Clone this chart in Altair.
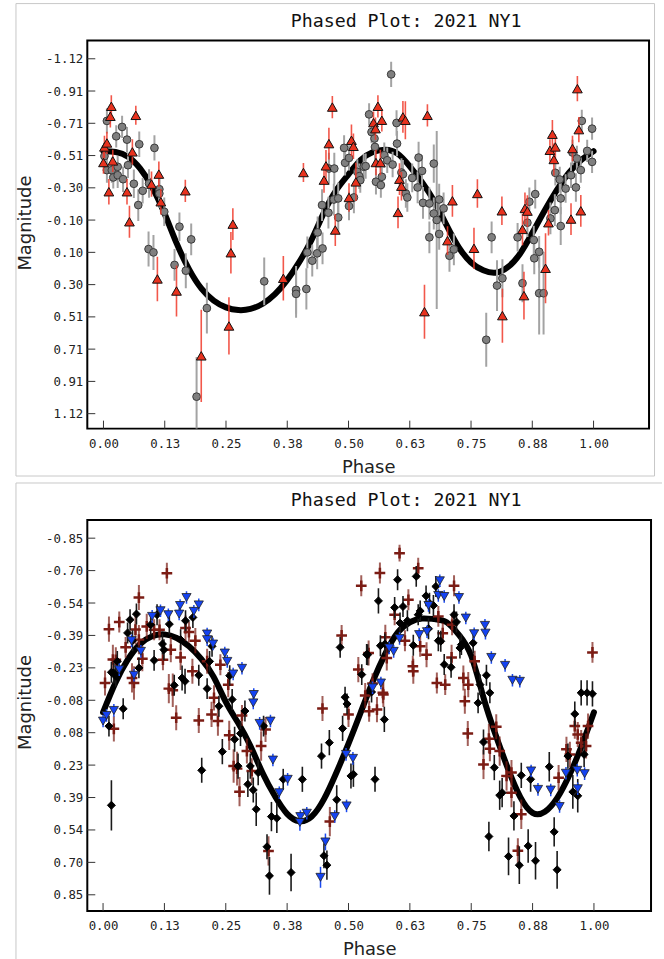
import altair as alt
import pandas as pd

TITLE = "Phased Plot: 2021 NY1"
x_tick_values = [0.0, 0.125, 0.25, 0.375, 0.5, 0.625, 0.75, 0.875, 1.0]
p1_y_tick_values = [-1.1171, -0.9140, -0.7109, -0.5078, -0.3047, -0.1016,
                    0.1016, 0.3047, 0.5078, 0.7109, 0.9140, 1.1171]
p2_y_tick_values = [-0.8514, -0.6966, -0.5418, -0.3870, -0.2322, -0.0774,
                    0.0774, 0.2322, 0.3870, 0.5418, 0.6966, 0.8514]

# ---------------- panel 1 : (phase, magnitude, error) ----------------
p1_gray = [
    (0.007, -0.726, 0.08), (0.026, -0.629, 0.07), (0.038, -0.688, 0.07), (0.048, -0.608, 0.08),
    (0.073, -0.579, 0.08), (0.104, -0.556, 0.08), (0.002, -0.504, 0.07), (0.007, -0.416, 0.08),
    (0.017, -0.416, 0.08), (0.020, -0.370, 0.07), (0.029, -0.437, 0.07), (0.029, -0.384, 0.08),
    (0.040, -0.359, 0.08), (0.050, -0.447, 0.08), (0.062, -0.330, 0.09), (0.071, -0.196, 0.10),
    (0.080, -0.286, 0.08), (0.093, -0.332, 0.09), (0.114, -0.296, 0.09), (0.114, -0.269, 0.09),
    (0.124, -0.154, 0.09), (0.092, 0.081, 0.11), (0.102, 0.102, 0.11), (0.155, -0.060, 0.09),
    (0.179, 0.020, 0.10), (0.145, 0.181, 0.10), (0.168, 0.217, 0.11), (0.211, 0.453, 0.16),
    (0.190, 1.010, 0.25), (0.328, 0.284, 0.15), (0.393, 0.338, 0.15), (0.393, 0.363, 0.15),
    (0.414, 0.332, 0.13), (0.416, 0.102, 0.10), (0.426, 0.154, 0.10), (0.437, -0.024, 0.10),
    (0.436, 0.108, 0.10), (0.447, 0.077, 0.10), (0.446, -0.196, 0.10), (0.459, -0.148, 0.10),
    (0.460, -0.426, 0.10), (0.471, -0.426, 0.10), (0.470, -0.231, 0.10), (0.479, -0.238, 0.10),
    (0.479, -0.118, 0.10), (0.491, -0.556, 0.08), (0.493, -0.462, 0.08), (0.501, -0.493, 0.08),
    (0.501, -0.190, 0.09), (0.511, -0.244, 0.10), (0.518, -0.405, 0.08), (0.522, -0.378, 0.08),
    (0.524, -0.353, 0.08), (0.531, -0.437, 0.08), (0.535, -0.441, 0.08), (0.542, -0.767, 0.07),
    (0.547, -0.656, 0.07), (0.553, -0.615, 0.07), (0.554, -0.562, 0.08), (0.556, -0.343, 0.08),
    (0.566, -0.322, 0.08), (0.568, -0.374, 0.08), (0.573, -0.510, 0.08), (0.579, -0.478, 0.08),
    (0.587, -1.019, 0.08), (0.590, -0.451, 0.08), (0.598, -0.713, 0.08), (0.599, -0.583, 0.08),
    (0.608, -0.401, 0.09), (0.611, -0.390, 0.09), (0.617, -0.269, 0.09), (0.620, -0.244, 0.09),
    (0.630, -0.367, 0.09), (0.641, -0.307, 0.10), (0.643, -0.495, 0.10), (0.650, -0.411, 0.10),
    (0.652, -0.210, 0.10), (0.665, -0.206, 0.10), (0.665, 0.007, 0.10), (0.674, -0.457, 0.12),
    (0.674, -0.143, 0.10), (0.680, -0.102, 0.56), (0.685, -0.231, 0.10), (0.685, -0.014, 0.10),
    (0.694, -0.175, 0.10), (0.706, 0.123, 0.10), (0.715, 0.083, 0.10), (0.781, 0.652, 0.17),
    (0.792, 0.007, 0.10), (0.803, 0.311, 0.16), (0.814, 0.265, 0.12), (0.845, 0.007, 0.09),
    (0.855, 0.296, 0.12), (0.865, -0.085, 0.09), (0.869, -0.217, 0.09), (0.878, 0.024, 0.09),
    (0.881, -0.265, 0.09), (0.879, 0.139, 0.10), (0.889, 0.098, 0.10), (0.889, 0.359, 0.26),
    (0.898, 0.359, 0.26), (0.912, -0.112, 0.10), (0.921, -0.164, 0.10), (0.922, -0.399, 0.08),
    (0.931, -0.357, 0.08), (0.933, -0.238, 0.10), (0.933, -0.064, 0.12), (0.943, -0.300, 0.09),
    (0.954, -0.384, 0.08), (0.957, -0.527, 0.08), (0.964, -0.307, 0.09), (0.966, -0.489, 0.08),
    (0.974, -0.416, 0.08), (0.976, -0.726, 0.07), (0.987, -0.537, 0.07), (0.997, -0.677, 0.07),
    (0.997, -0.468, 0.07),
]
p1_red = [
    (0.002, -0.562, 0.07), (0.000, -0.464, 0.07), (0.007, -0.587, 0.07), (0.011, -0.280, 0.08),
    (0.014, -0.755, 0.07), (0.016, -0.818, 0.07), (0.019, -0.474, 0.07), (0.048, -0.280, 0.08),
    (0.053, -0.091, 0.10), (0.059, -0.531, 0.08), (0.066, -0.761, 0.06), (0.098, -0.328, 0.08),
    (0.110, 0.269, 0.14), (0.113, -0.391, 0.08), (0.117, -0.217, 0.08), (0.149, 0.345, 0.16),
    (0.167, -0.286, 0.07), (0.1995, 0.753, 0.29), (0.256, 0.565, 0.18), (0.260, 0.104, 0.13),
    (0.264, -0.076, 0.10), (0.367, 0.265, 0.14), (0.408, -0.401, 0.06), (0.450, -0.353, 0.08),
    (0.454, -0.443, 0.10), (0.460, -0.583, 0.10), (0.467, -0.813, 0.07), (0.473, -0.039, 0.10),
    (0.501, -0.244, 0.09), (0.506, -0.604, 0.10), (0.510, -0.566, 0.08), (0.515, -0.342, 0.12),
    (0.551, -0.715, 0.07), (0.555, -0.677, 0.07), (0.560, -0.818, 0.07), (0.556, -0.464, 0.08),
    (0.565, -0.464, 0.08), (0.568, -0.730, 0.07), (0.601, -0.150, 0.10), (0.604, -0.359, 0.10),
    (0.608, -0.315, 0.09), (0.611, -0.751, 0.10), (0.616, -0.730, 0.12), (0.655, 0.475, 0.17),
    (0.661, -0.761, 0.07), (0.702, 0.028, 0.09), (0.712, -0.223, 0.10), (0.756, 0.076, 0.13),
    (0.763, -0.269, 0.09), (0.813, -0.160, 0.09), (0.814, 0.500, 0.17), (0.855, -0.043, 0.10),
    (0.860, -0.175, 0.10), (0.858, 0.374, 0.15), (0.865, -0.158, 0.10), (0.902, 0.202, 0.22),
    (0.908, -0.085, 0.08), (0.911, -0.541, 0.07), (0.916, -0.642, 0.09), (0.919, -0.483, 0.10),
    (0.922, -0.562, 0.08), (0.954, -0.108, 0.10), (0.957, -0.552, 0.08), (0.967, -0.929, 0.08),
    (0.970, -0.671, 0.08), (0.974, -0.160, 0.10),
]
p1_fit_phase = [0.0, 0.025, 0.05, 0.075, 0.1, 0.125, 0.15, 0.175, 0.2, 0.225, 0.25, 0.275,
                0.3, 0.325, 0.35, 0.375, 0.4, 0.425, 0.45, 0.475, 0.5, 0.525, 0.55, 0.575,
                0.6, 0.625, 0.65, 0.675, 0.7, 0.725, 0.75, 0.775, 0.8, 0.825, 0.85, 0.875,
                0.9, 0.925, 0.95, 0.975, 1.0]
p1_fit_mag = [-0.535, -0.530, -0.500, -0.425, -0.305, -0.140, 0.050, 0.210, 0.330, 0.405,
              0.448, 0.465, 0.458, 0.425, 0.365, 0.275, 0.160, 0.020, -0.150, -0.290,
              -0.390, -0.480, -0.530, -0.545, -0.520, -0.440, -0.340, -0.220, -0.070, 0.070,
              0.165, 0.215, 0.230, 0.195, 0.110, -0.020, -0.160, -0.290, -0.400, -0.480, -0.535]

# ---------------- panel 2 : (phase, magnitude, error) ----------------
p2_maroon = [
    (0.130, -0.684, 0.05), (0.073, -0.568, 0.06), (0.012, -0.417, 0.06), (0.033, -0.451, 0.05),
    (0.066, -0.415, 0.07), (0.104, -0.414, 0.05), (0.115, -0.414, 0.05), (0.073, -0.367, 0.07),
    (0.138, -0.319, 0.06), (0.168, -0.422, 0.06), (0.175, -0.403, 0.05), (0.188, -0.362, 0.06),
    (0.026, -0.271, 0.06), (0.046, -0.330, 0.05), (0.059, -0.184, 0.07), (0.063, -0.160, 0.08),
    (0.080, -0.276, 0.06), (0.122, -0.271, 0.05), (0.158, -0.282, 0.06), (0.134, -0.133, 0.07),
    (0.142, -0.125, 0.08), (0.182, -0.216, 0.06), (0.226, -0.089, 0.06), (0.239, -0.247, 0.05),
    (0.255, -0.152, 0.06), (0.004, -0.160, 0.06), (0.526, -0.624, 0.05), (0.486, -0.387, 0.05),
    (0.520, -0.224, 0.06), (0.447, -0.038, 0.06), (0.212, -0.264, 0.06), (0.089, -0.430, 0.06),
    (0.020, -0.272, 0.07),
    (0.604, -0.780, 0.04), (0.564, -0.685, 0.05), (0.642, -0.708, 0.05), (0.715, -0.624, 0.05),
    (0.622, -0.557, 0.05), (0.594, -0.486, 0.05), (0.683, -0.478, 0.05), (0.711, -0.438, 0.05),
    (0.575, -0.378, 0.06), (0.615, -0.362, 0.05), (0.646, -0.335, 0.05), (0.659, -0.295, 0.06),
    (0.692, -0.398, 0.05), (0.578, -0.279, 0.06), (0.541, -0.303, 0.06), (0.631, -0.240, 0.05),
    (0.632, -0.216, 0.06), (0.710, -0.282, 0.06), (0.757, -0.264, 0.05), (0.734, -0.184, 0.06),
    (0.680, -0.160, 0.05), (0.697, -0.152, 0.05), (0.744, -0.152, 0.06), (0.737, -0.073, 0.06),
    (0.571, -0.105, 0.06), (0.558, -0.033, 0.06), (0.997, -0.306, 0.05), (0.534, -0.100, 0.06),
    (0.549, -0.157, 0.05), (0.570, -0.113, 0.05),
    (0.022, 0.059, 0.06), (0.149, 0.006, 0.06), (0.195, 0.019, 0.06), (0.221, -0.010, 0.06),
    (0.234, 0.022, 0.07), (0.257, 0.090, 0.07), (0.283, -0.005, 0.05), (0.293, 0.165, 0.06),
    (0.266, 0.237, 0.08), (0.273, 0.249, 0.08), (0.303, 0.260, 0.06), (0.322, 0.141, 0.07),
    (0.331, 0.062, 0.06), (0.278, 0.359, 0.07), (0.337, 0.642, 0.07), (0.500, -0.010, 0.06),
    (0.462, 0.502, 0.07),
    (0.542, -0.025, 0.05), (0.743, 0.081, 0.06), (0.786, 0.106, 0.07), (0.788, 0.154, 0.06),
    (0.801, 0.049, 0.06), (0.808, 0.165, 0.07), (0.775, 0.229, 0.07), (0.822, 0.284, 0.07),
    (0.832, 0.268, 0.06), (0.928, 0.292, 0.06), (0.832, 0.364, 0.07), (0.852, 0.467, 0.07),
    (0.845, 0.641, 0.06), (0.944, 0.157, 0.06), (0.951, 0.181, 0.06), (0.961, 0.046, 0.06),
    (0.967, 0.086, 0.06), (0.974, 0.125, 0.06), (0.984, 0.141, 0.06), (0.988, 0.046, 0.06),
]
p2_black = [
    (0.055, -0.462, 0.05), (0.068, -0.489, 0.05), (0.050, -0.399, 0.05), (0.110, -0.486, 0.05),
    (0.135, -0.441, 0.05), (0.097, -0.438, 0.05), (0.060, -0.362, 0.05), (0.121, -0.346, 0.05),
    (0.124, -0.319, 0.05), (0.158, -0.367, 0.05), (0.168, -0.457, 0.05), (0.183, -0.473, 0.05),
    (0.222, -0.335, 0.05), (0.029, -0.263, 0.05), (0.022, -0.207, 0.05), (0.073, -0.232, 0.05),
    (0.104, -0.268, 0.05), (0.161, -0.184, 0.06), (0.167, -0.168, 0.06), (0.145, -0.149, 0.05),
    (0.195, -0.197, 0.05), (0.212, -0.133, 0.05), (0.217, -0.263, 0.05), (0.236, -0.049, 0.05),
    (0.258, -0.195, 0.05), (0.263, -0.081, 0.05), (0.289, -0.026, 0.05), (0.041, -0.037, 0.05),
    (0.483, -0.330, 0.05), (0.527, -0.200, 0.05), (0.493, -0.092, 0.05), (0.497, -0.060, 0.05),
    (0.537, -0.296, 0.05), (0.017, -0.211, 0.05), (0.026, -0.192, 0.05),
    (0.600, -0.653, 0.05), (0.638, -0.669, 0.05), (0.678, -0.621, 0.05), (0.658, -0.576, 0.05),
    (0.561, -0.552, 0.06), (0.594, -0.520, 0.05), (0.611, -0.525, 0.05), (0.646, -0.504, 0.05),
    (0.665, -0.541, 0.05), (0.673, -0.530, 0.05), (0.642, -0.486, 0.05), (0.715, -0.486, 0.05),
    (0.720, -0.451, 0.05), (0.620, -0.457, 0.05), (0.605, -0.446, 0.05), (0.663, -0.419, 0.05),
    (0.574, -0.346, 0.05), (0.565, -0.338, 0.05), (0.632, -0.340, 0.05), (0.683, -0.362, 0.05),
    (0.688, -0.359, 0.05), (0.730, -0.343, 0.05), (0.727, -0.327, 0.05), (0.754, -0.351, 0.05),
    (0.539, -0.295, 0.05), (0.695, -0.248, 0.05), (0.709, -0.235, 0.05), (0.781, -0.197, 0.05),
    (0.768, -0.152, 0.05), (0.788, -0.113, 0.05), (0.764, -0.065, 0.05), (0.547, -0.117, 0.05),
    (0.974, -0.113, 0.06), (0.986, -0.113, 0.06), (0.997, -0.108, 0.06), (0.961, -0.012, 0.06),
    (0.012, 0.046, 0.05), (0.017, 0.424, 0.12), (0.243, 0.168, 0.06), (0.201, 0.257, 0.06),
    (0.268, 0.109, 0.06), (0.275, 0.237, 0.06), (0.280, 0.081, 0.06), (0.300, 0.237, 0.06),
    (0.316, 0.268, 0.06), (0.327, 0.046, 0.05), (0.295, 0.324, 0.06), (0.306, 0.351, 0.06),
    (0.312, 0.443, 0.08), (0.367, 0.300, 0.05), (0.343, 0.478, 0.07), (0.354, 0.486, 0.07),
    (0.406, 0.300, 0.06), (0.334, 0.622, 0.06), (0.339, 0.761, 0.09), (0.383, 0.745, 0.09),
    (0.445, 0.189, 0.06), (0.461, 0.125, 0.06), (0.488, 0.057, 0.06), (0.505, 0.284, 0.06),
    (0.510, 0.276, 0.06), (0.476, 0.398, 0.07), (0.450, 0.665, 0.06), (0.456, 0.710, 0.07),
    (0.573, 0.014, 0.06), (0.554, 0.300, 0.06), (0.775, 0.122, 0.06), (0.797, 0.244, 0.06),
    (0.852, 0.281, 0.06), (0.871, 0.300, 0.06), (0.909, 0.240, 0.07), (0.808, 0.376, 0.07),
    (0.813, 0.364, 0.07), (0.837, 0.475, 0.07), (0.786, 0.573, 0.07), (0.826, 0.668, 0.09),
    (0.848, 0.710, 0.09), (0.866, 0.618, 0.08), (0.881, 0.689, 0.09), (0.919, 0.551, 0.07),
    (0.925, 0.732, 0.09), (0.980, 0.181, 0.06), (0.957, 0.360, 0.08), (0.967, 0.379, 0.08),
    (0.947, 0.189, 0.06),
]
p2_blue = [
    (0.100, -0.478, 0.03), (0.117, -0.505, 0.03), (0.133, -0.486, 0.03), (0.157, -0.530, 0.03),
    (0.170, -0.568, 0.03), (0.195, -0.533, 0.03), (0.185, -0.502, 0.03), (0.155, -0.489, 0.03),
    (0.058, -0.362, 0.03), (0.077, -0.311, 0.03), (0.212, -0.394, 0.03), (0.212, -0.367, 0.03),
    (0.224, -0.346, 0.03), (0.033, -0.223, 0.03), (0.063, -0.197, 0.03), (0.248, -0.303, 0.03),
    (0.253, -0.263, 0.03), (0.265, -0.203, 0.03), (0.283, -0.230, 0.03), (0.307, -0.105, 0.03),
    (0.306, -0.065, 0.03),
    (0.686, -0.648, 0.03), (0.683, -0.578, 0.03), (0.695, -0.573, 0.03), (0.725, -0.568, 0.03),
    (0.739, -0.470, 0.03), (0.778, -0.435, 0.03), (0.779, -0.398, 0.03), (0.756, -0.395, 0.03),
    (0.604, -0.372, 0.03), (0.592, -0.311, 0.03), (0.583, -0.327, 0.03), (0.791, -0.282, 0.03),
    (0.819, -0.244, 0.03), (0.834, -0.173, 0.03), (0.849, -0.168, 0.03), (0.566, -0.160, 0.03),
    (0.549, -0.137, 0.03), (0.660, -0.405, 0.03), (0.663, -0.530, 0.03), (0.644, -0.391, 0.03),
    (0.000, 0.022, 0.03), (0.007, -0.005, 0.03), (0.022, -0.029, 0.03), (0.319, 0.033, 0.03),
    (0.341, 0.022, 0.03), (0.346, 0.208, 0.03), (0.359, 0.364, 0.03), (0.376, 0.300, 0.03),
    (0.402, 0.478, 0.03), (0.401, 0.506, 0.04), (0.415, 0.462, 0.03), (0.495, 0.181, 0.03),
    (0.509, 0.200, 0.03), (0.496, 0.427, 0.03), (0.472, 0.478, 0.03), (0.453, 0.599, 0.04),
    (0.443, 0.768, 0.05),
    (0.872, 0.260, 0.03), (0.886, 0.348, 0.03), (0.912, 0.351, 0.03), (0.930, 0.430, 0.03),
    (0.966, 0.257, 0.03), (0.981, 0.273, 0.03), (0.967, 0.345, 0.03), (0.943, 0.271, 0.03),
]
p2_fit_phase = p1_fit_phase
p2_fit_mag = [-0.020, -0.160, -0.270, -0.345, -0.383, -0.392, -0.375, -0.335, -0.275, -0.190,
              -0.070, 0.030, 0.140, 0.270, 0.380, 0.465, 0.500, 0.478, 0.395, 0.270,
              0.130, -0.020, -0.170, -0.300, -0.400, -0.450, -0.468, -0.465, -0.450, -0.390,
              -0.290, -0.090, 0.090, 0.250, 0.385, 0.460, 0.455, 0.390, 0.280, 0.140, -0.020]


def err_df(rows):
    return pd.DataFrame({
        "phase": [r[0] for r in rows],
        "mag": [r[1] for r in rows],
        "lo": [r[1] - r[2] for r in rows],
        "hi": [r[1] + r[2] for r in rows],
    })


LABEL_EXPR = "(datum.value < 0 ? '-' : '') + format(abs(datum.value), '.2f')"
CROSS = "M-1,0L1,0M0,-1L0,1"
BORDER = "#c8c8c8"


def panel(W, H, xdom, ydom, yticks, series, fit_phase, fit_mag, border_bottom, phase_title_y,
          border_right, closed_border):
    xs = alt.Scale(domain=xdom, nice=False, zero=False)
    ys = alt.Scale(domain=ydom, nice=False, zero=False, reverse=True)
    one = pd.DataFrame({"a": [0]})
    xaxis = alt.Axis(title="Phase", values=x_tick_values, labelExpr=LABEL_EXPR, ticks=False, tickSize=0,
                     domain=False, grid=False, labelFont="DejaVu Sans Mono", labelFontSize=12.4,
                     labelColor="#222", labelPadding=9, labelFlush=False, labelOverlap=False,
                     titleFont="DejaVu Sans", titleFontSize=18, titleFontWeight="normal",
                     titleColor="#222", titleY=phase_title_y, titleBaseline="alphabetic")
    yaxis = alt.Axis(title="Magnitude", values=yticks, labelExpr=LABEL_EXPR, ticks=False, tickSize=0,
                     domain=False, grid=False, labelFont="DejaVu Sans Mono", labelFontSize=12.4,
                     labelColor="#222", labelPadding=4.5, labelFlush=False, labelOverlap=False,
                     titleFont="DejaVu Sans", titleFontSize=18, titleFontWeight="normal",
                     titleColor="#222", titleX=-57, titleY=182.5, titleBaseline="alphabetic",
                     titleAngle=270, titleAlign="center")

    def X(field):
        return alt.X(field, scale=xs, axis=xaxis)

    def Y(field):
        return alt.Y(field, scale=ys, axis=yaxis)

    layers = []
    if closed_border:
        layers.append(alt.Chart(one).mark_rect(fill="white", fillOpacity=0, stroke=BORDER, strokeWidth=1).encode(
            x=alt.value(-71.5), x2=alt.value(border_right), y=alt.value(-37), y2=alt.value(border_bottom)))
    else:
        layers.append(alt.Chart(one).mark_rule(color=BORDER, strokeWidth=1).encode(
            x=alt.value(-71.5), x2=alt.value(border_right), y=alt.value(-37)))
        layers.append(alt.Chart(one).mark_rule(color=BORDER, strokeWidth=1).encode(
            x=alt.value(-71.5), y=alt.value(-37), y2=alt.value(border_bottom)))
    fit = pd.DataFrame({"phase": fit_phase, "mag": fit_mag})
    layers.append(alt.Chart(fit).mark_line(color="black", strokeWidth=6, interpolate="natural",
                                           strokeCap="round").encode(x=X("phase:Q"), y=Y("mag:Q")))
    for rows, bar, mark in series:
        df = err_df(rows)
        layers.append(alt.Chart(df).mark_rule(clip=True, **bar).encode(
            x=X("phase:Q"), y=Y("lo:Q"), y2="hi:Q"))
        layers.append(alt.Chart(df).mark_point(opacity=1, **mark).encode(
            x=X("phase:Q"), y=Y("mag:Q")))
    yt = pd.DataFrame({"v": yticks})
    xt = pd.DataFrame({"v": x_tick_values})
    layers.append(alt.Chart(yt).mark_rule(color="#333", strokeWidth=1).encode(
        y=Y("v:Q"), x=alt.value(0), x2=alt.value(8)))
    layers.append(alt.Chart(xt).mark_rule(color="#333", strokeWidth=1).encode(
        x=X("v:Q"), y=alt.value(H), y2=alt.value(H - 8)))
    layers.append(alt.Chart(one).mark_text(text=TITLE, font="DejaVu Sans Mono", fontSize=18.3, color="#111",
                                           align="center", baseline="alphabetic").encode(
        x=alt.value(319.5), y=alt.value(-13.5)))
    return alt.layer(*layers).properties(width=W, height=H)


series1 = [
    (p1_gray, dict(color="#a3a3a3", strokeWidth=2),
     dict(shape="circle", filled=True, size=60, fill="#7f7f7f", stroke="#3a3a3a", strokeWidth=1)),
    (p1_red, dict(color="#f03a2a", strokeWidth=1.6, opacity=0.85),
     dict(shape="triangle-up", filled=True, size=95, fill="#e8321e", stroke="#111", strokeWidth=1)),
]
series2 = [
    (p2_maroon, dict(color="#7b1c14", strokeWidth=2, opacity=0.7),
     dict(shape=CROSS, filled=False, size=115, color="#7b1c14", stroke="#7b1c14", strokeWidth=2.5)),
    (p2_black, dict(color="#1a1a1a", strokeWidth=1.6),
     dict(shape="diamond", filled=True, size=64, fill="#000000", stroke="#000000", strokeWidth=1)),
    (p2_blue, dict(color="#1a4af0", strokeWidth=1.5),
     dict(shape="triangle-down", filled=True, size=85, fill="#1443f2", stroke="#222", strokeWidth=0.8)),
]

p1 = panel(563, 389, [-0.033, 1.1132], [-1.2321, 1.2113], p1_y_tick_values, series1,
           p1_fit_phase, p1_fit_mag, 436.5, 44.3, 568.5, True)
p2 = panel(565, 392, [-0.0321, 1.1163], [-0.9386, 0.9290], p2_y_tick_values, series2,
           p2_fit_phase, p2_fit_mag, 445, 44, 576, False)

chart = alt.vconcat(p1, p2, spacing=91.5, bounds="flush").properties(
    padding={"left": 14.5, "top": 0.5, "right": 0, "bottom": 0}
).configure_view(stroke="black", strokeWidth=2)

chart.save("out.html", embed_options={"renderer": "svg", "actions": False})
